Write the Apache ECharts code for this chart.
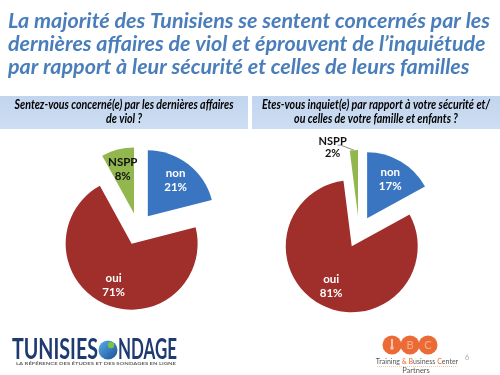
<!DOCTYPE html>
<html>
<head>
<meta charset="utf-8">
<script src="https://cdn.jsdelivr.net/npm/echarts@6/dist/echarts.min.js"></script>
<style>
  html, body { margin: 0; padding: 0; background: #fff; }
  #chart { width: 500px; height: 375px; }
</style>
</head>
<body>
<div id="chart"></div>
<script>
const titleLines = [
  'La majorité des Tunisiens se sentent concernés par les',
  'dernières affaires de viol et éprouvent de l\u2019inquiétude',
  'par rapport à leur sécurité et celles de leurs familles'
]
const questionLeft = ['Sentez-vous concerné(e) par les dernières affaires', 'de viol ?']
const questionRight = ['Etes-vous inquiet(e) par rapport à votre sécurité et/', 'ou celles de votre famille et enfants ?']
const answers = ['non', 'oui', 'NSPP']
const concernedValues = [21, 71, 8]
const worriedValues = [17, 81, 2]
const sliceColors = ['#3a75c2', '#a02e2a', '#93b74f']

const FONT = "Lato, 'Liberation Sans', sans-serif"
const centers = [[138, 229], [359, 232]]
const R = 66
const OFFSET = 16

// measure text so the fonts can be squeezed to the slide's widths
const measureCtx = document.createElement('canvas').getContext('2d')
function textWidth (text, font) {
  measureCtx.font = font
  return measureCtx.measureText(text).width
}

const titleFont = 'italic bold 20px ' + FONT
const titleScale = 482 / textWidth(titleLines[0], titleFont)
const qFont = 'italic bold 12.5px ' + FONT
const qScale = Math.min(226 / textWidth(questionLeft[0], qFont), 228 / textWidth(questionRight[0], qFont))

function pieData (values, outsideIdx) {
  return values.map((v, i) => {
    const item = {
      name: answers[i],
      value: v,
      selected: true,
      itemStyle: { color: sliceColors[i] }
    }
    if (i === 2) item.label = { color: '#111' }
    if (i === outsideIdx) {
      item.label = {
        position: 'outside',
        color: '#111',
        formatter: '{a|{b}}\n{a|{c}%}',
        rich: { a: { width: 26, align: 'center', fontFamily: FONT, fontWeight: 'bold', fontSize: 11, lineHeight: 12, color: '#111' } }
      }
      item.labelLine = { show: true, length: 3, length2: 3, lineStyle: { color: '#8a8a8a', width: 1 } }
    }
    return item
  })
}

function pieSeries (idx, values, outsideIdx) {
  return {
    type: 'pie',
    center: centers[idx],
    radius: [0, R],
    startAngle: 90,
    clockwise: true,
    selectedMode: 'multiple',
    selectedOffset: OFFSET,
    avoidLabelOverlap: false,
    animation: false,
    emphasis: { disabled: true },
    label: {
      show: true,
      position: 'inside',
      formatter: '{b}\n{c}%',
      color: '#fff',
      fontFamily: FONT,
      fontWeight: 'bold',
      fontSize: 11.5,
      lineHeight: 14
    },
    labelLine: { show: false },
    labelLayout: function (p) {
      const r = p.labelRect
      if (p.dataIndex === outsideIdx) {
        // pull the small label down-left, the line is redrawn to the slice
        return { x: r.x + r.width - 10, y: r.y + r.height / 2 - 2 }
      }
      const c = centers[idx]
      const k = 0.26
      return { dx: (r.x + r.width / 2 - c[0]) * k, dy: (r.y + r.height / 2 - c[1]) * k }
    },
    data: pieData(values, outsideIdx)
  }
}

function questionBox (x, w, lines) {
  return {
    type: 'group',
    children: [
      {
        type: 'rect',
        shape: { x: x, y: 96, width: w, height: 33 },
        style: {
          fill: new echarts.graphic.LinearGradient(0, 0, 0, 1, [
            { offset: 0, color: '#c2d5ee' },
            { offset: 1, color: '#cddef2' }
          ])
        },
        silent: true
      },
      {
        type: 'text',
        x: x + w / 2,
        y: 105,
        scaleX: qScale,
        style: { text: lines[0], align: 'center', verticalAlign: 'middle', fill: '#000', font: qFont }
      },
      {
        type: 'text',
        x: x + w / 2,
        y: 119,
        scaleX: qScale,
        style: { text: lines[1], align: 'center', verticalAlign: 'middle', fill: '#000', font: qFont }
      }
    ]
  }
}

const titleGraphics = titleLines.map((line, i) => ({
  type: 'text',
  x: 8,
  y: 22 + i * 23,
  scaleX: titleScale,
  style: { text: line, font: titleFont, fill: '#4a7ebb', verticalAlign: 'middle' }
}))

const logoFont = 'bold 28px ' + FONT
const tagline = 'LA RÉFÉRENCE DES ÉTUDES ET DES SONDAGES EN LIGNE'
const tagFont = 'bold 4px ' + FONT

const chart = echarts.init(document.getElementById('chart'), null, { renderer: 'canvas' })

const option = {
  backgroundColor: '#fff',
  animation: false,
  graphic: titleGraphics.concat([
    questionBox(0, 248, questionLeft),
    questionBox(252, 248, questionRight),
    // TunisieSondage logo
    {
      type: 'text',
      x: 12, y: 350,
      scaleX: 86 / textWidth('TUNISIES', logoFont),
      style: { text: 'TUNISIES', font: logoFont, fill: '#1e3a70', verticalAlign: 'middle' }
    },
    {
      type: 'circle',
      shape: { cx: 108, cy: 350, r: 9.5 },
      style: {
        fill: new echarts.graphic.LinearGradient(0, 0, 1, 1, [
          { offset: 0, color: '#55b0e8' },
          { offset: 1, color: '#1d4d99' }
        ])
      }
    },
    {
      type: 'circle',
      shape: { cx: 111, cy: 345, r: 3.2 },
      style: { fill: '#7fc241' }
    },
    {
      type: 'text',
      x: 118, y: 350,
      scaleX: 59 / textWidth('NDAGE', logoFont),
      style: { text: 'NDAGE', font: logoFont, fill: '#1e3a70', verticalAlign: 'middle' }
    },
    {
      type: 'text',
      x: 16, y: 364,
      scaleX: 160 / textWidth(tagline, tagFont),
      style: { text: tagline, font: tagFont, fill: '#666', verticalAlign: 'middle' }
    },
    // Training & Business Center logo
    { type: 'circle', shape: { cx: 392, cy: 345, r: 9.5 }, style: { fill: '#ec6a35' } },
    { type: 'circle', shape: { cx: 410, cy: 345, r: 9.5 }, style: { fill: '#ec6a35' } },
    { type: 'circle', shape: { cx: 428, cy: 345, r: 9.5 }, style: { fill: '#ec6a35' } },
    { type: 'rect', shape: { x: 391, y: 339, width: 2, height: 8 }, style: { fill: '#f7c4aa' } },
    { type: 'circle', shape: { cx: 392, cy: 348, r: 1.8 }, style: { fill: '#f7c4aa' } },
    { type: 'text', x: 410, y: 345, style: { text: 'B', font: '11px ' + FONT, fill: '#f5b08f', align: 'center', verticalAlign: 'middle' } },
    { type: 'text', x: 428, y: 345, style: { text: 'C', font: '11px ' + FONT, fill: '#f5b08f', align: 'center', verticalAlign: 'middle' } },
    {
      type: 'text',
      x: 417, y: 362,
      style: {
        text: '{g|Training }{o|&}{g| }{o|B}{g|usiness }{o|C}{g|enter}',
        align: 'center',
        verticalAlign: 'middle',
        rich: {
          g: { font: '7px ' + FONT, fill: '#555' },
          o: { font: '7px ' + FONT, fill: '#e8662e' }
        }
      }
    },
    { type: 'line', shape: { x1: 377, y1: 366.5, x2: 457, y2: 366.5 }, style: { stroke: '#f0a27c', lineWidth: 0.6, lineDash: [1, 1] } },
    { type: 'text', x: 416, y: 371, style: { text: 'Partners', font: '7.5px ' + FONT, fill: '#555', align: 'center', verticalAlign: 'middle' } },
    { type: 'text', x: 467, y: 357, style: { text: '6', font: '8px ' + FONT, fill: '#b0b0b0', align: 'center', verticalAlign: 'middle' } }
  ]),
  series: [
    pieSeries(0, concernedValues, -1),
    pieSeries(1, worriedValues, 2)
  ]
}

chart.setOption(option)
</script>
</body>
</html>
